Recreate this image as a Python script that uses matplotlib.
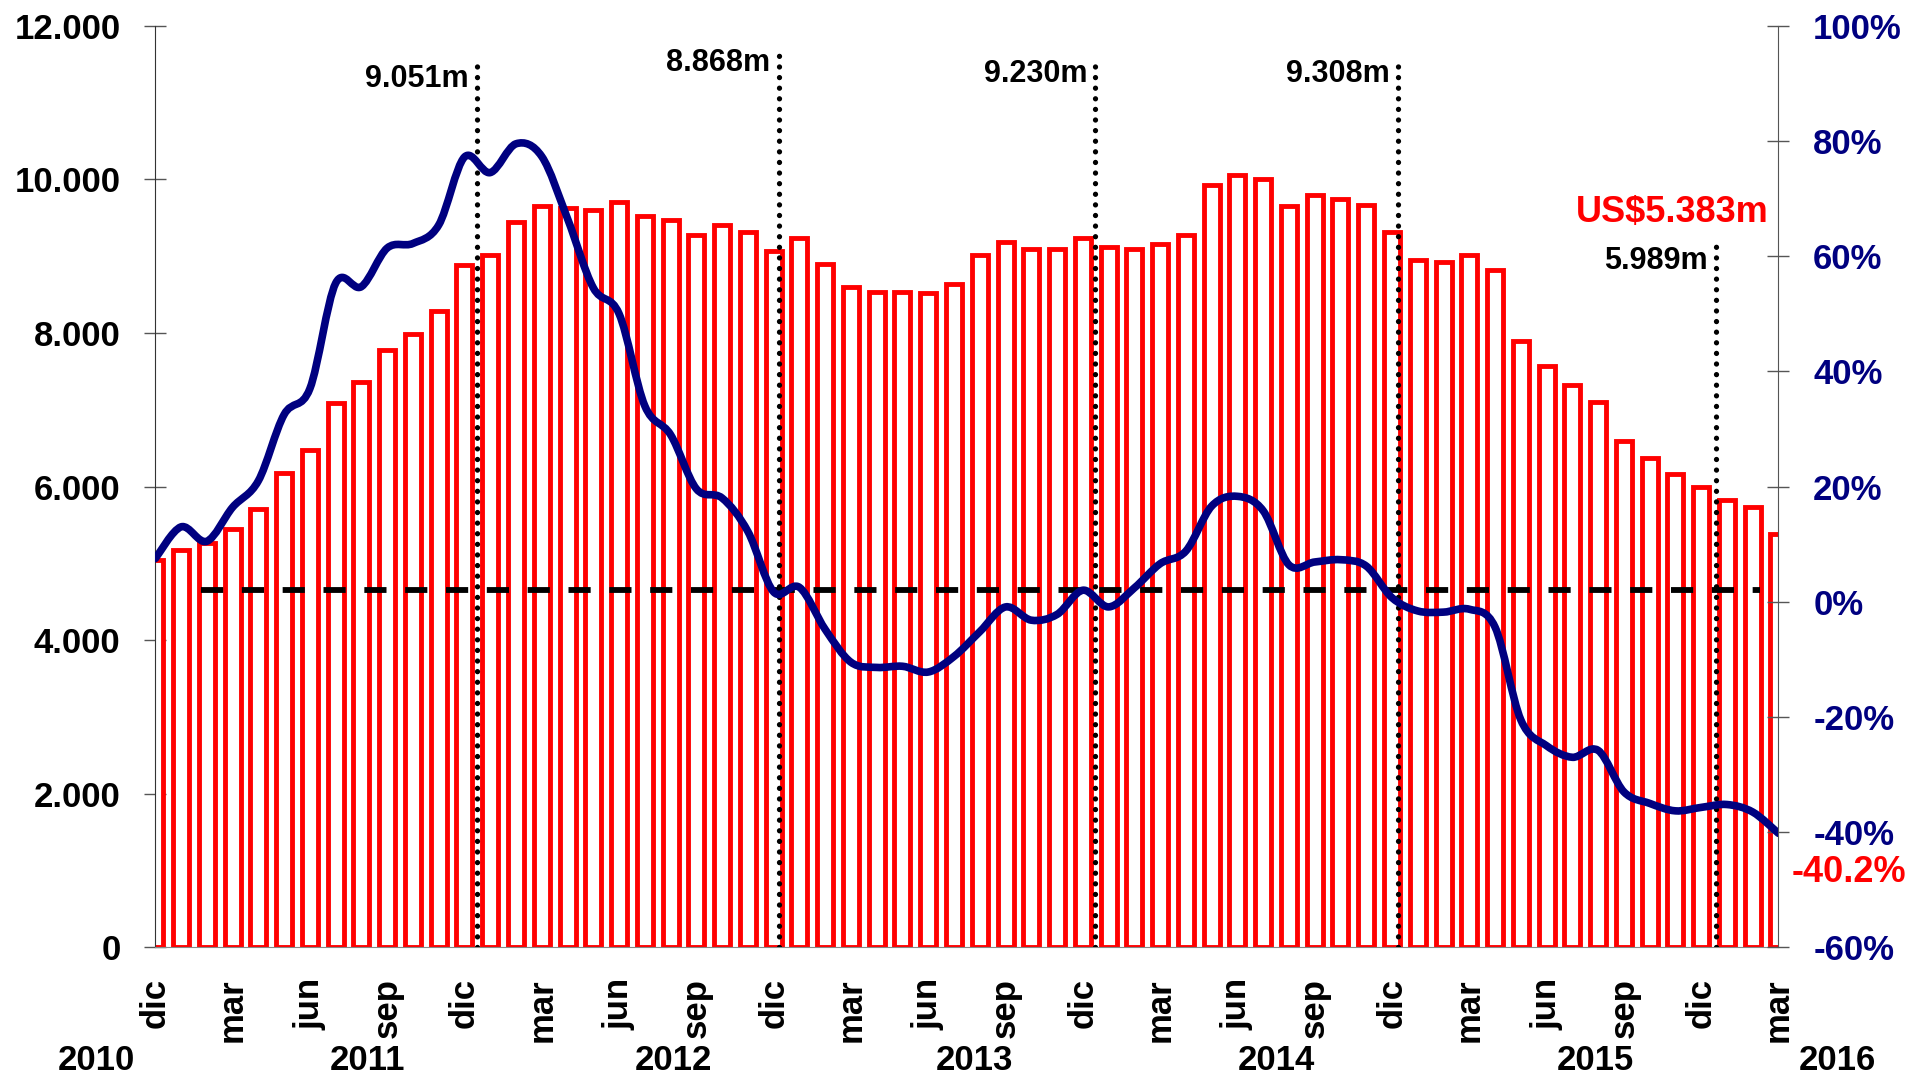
import matplotlib.pyplot as plt
from matplotlib.path import Path
from matplotlib.patches import PathPatch

plt.rcParams['font.family'] = ['Liberation Sans', 'DejaVu Sans']
plt.rcParams['font.weight'] = 'bold'

# monthly series, dic 2010 .. mar 2016
month_names = ['ene', 'feb', 'mar', 'abr', 'may', 'jun',
               'jul', 'ago', 'sep', 'oct', 'nov', 'dic']
months = ['dic'] + month_names * 5 + ['ene', 'feb', 'mar']

# value, US$ millions
values = [5050, 5180, 5270, 5450, 5710, 6170, 6470, 7090, 7360, 7780, 7980, 8280,
          8880, 9020, 9440, 9650, 9630, 9600, 9700, 9520, 9470, 9270, 9400, 9310,
          9070, 9230, 8900, 8600, 8530, 8530, 8520, 8640, 9020, 9190, 9090, 9090,
          9230, 9120, 9090, 9160, 9280, 9930, 10060, 10000, 9650, 9800, 9750, 9660,
          9308, 8950, 8920, 9010, 8820, 7890, 7570, 7320, 7100, 6590, 6370, 6160,
          5989, 5830, 5730, 5383]

# year-on-year change, %
growth = [7.5, 13.0, 10.5, 16.4, 21.0, 32.5, 37.0, 55.3, 54.7, 61.4, 62.2, 65.4,
          77.2, 74.5, 79.5, 77.3, 66.5, 54.5, 50.0, 34.0, 29.0, 19.6, 18.0, 12.2,
          1.7, 2.5, -4.8, -10.5, -11.4, -11.2, -12.2, -9.5, -5.2, -0.9, -3.2, -2.2,
          2.0, -0.9, 2.4, 6.6, 8.8, 16.6, 18.3, 15.8, 6.4, 6.9, 7.3, 6.2,
          0.7, -1.6, -1.8, -1.3, -4.4, -20.5, -25.0, -27.0, -25.8, -33.0, -35.0, -36.3,
          -35.7, -35.2, -36.5, -40.2]

years = ['2010', '2011', '2012', '2013', '2014', '2015', '2016']
dec_labels = ['9.051m', '8.868m', '9.230m', '9.308m', '5.989m']

RED = '#FF0000'
NAVY = '#000080'


def smooth_path(xs, ys):
    # Bezier curve through the points, like a spreadsheet "smoothed line"
    verts = [(xs[0], ys[0])]
    codes = [Path.MOVETO]
    n = len(xs)
    for i in range(n - 1):
        xp, yp = (xs[i - 1], ys[i - 1]) if i > 0 else (xs[i], ys[i])
        xn, yn = (xs[i + 2], ys[i + 2]) if i + 2 < n else (xs[i + 1], ys[i + 1])
        c1 = (xs[i] + (xs[i + 1] - xp) / 6, ys[i] + (ys[i + 1] - yp) / 6)
        c2 = (xs[i + 1] - (xn - xs[i]) / 6, ys[i + 1] - (yn - ys[i]) / 6)
        verts += [c1, c2, (xs[i + 1], ys[i + 1])]
        codes += [Path.CURVE4] * 3
    return Path(verts, codes)


fig = plt.figure(figsize=(19.15, 10.8), dpi=100)
ax = fig.add_axes([0.0811, 0.1228, 0.8476, 0.8534])
x = list(range(len(values)))

ax.bar(x, values, width=0.62, color='white', edgecolor=RED, linewidth=3.5, zorder=2)
ax.set_xlim(0, len(values) - 1)
ax.set_ylim(0, 12000)
ax.set_yticks(range(0, 12001, 2000))
ax.set_yticklabels(['{:,}'.format(v).replace(',', '.') for v in range(0, 12001, 2000)])
ax.set_xticks(x[::3])
ax.set_xticklabels(months[::3], rotation=90, va='top', ha='center')
ax.tick_params(axis='x', length=0, pad=22, labelsize=25)
ax.tick_params(axis='y', direction='inout', length=16, width=1, color='#555555',
               pad=17, labelsize=25)
ax.spines['top'].set_visible(False)
ax.spines['bottom'].set_color('#888888')
ax.spines['left'].set_color('#333333')
ax.spines['right'].set_visible(False)

# dotted december markers with labels
dec_pos = [12.48, 24.19, 36.49, 48.24, 60.57]
dec_top = [11507, 11707, 11568, 11568, 9127]
for xp, top, lab in zip(dec_pos, dec_top, dec_labels):
    ax.plot([xp, xp], [0, top], color='black', lw=3.8,
            linestyle=(0, (0.01, 2.0)), dash_capstyle='round', zorder=4)
    ax.text(xp - 0.32, top, lab, ha='right', va='top', fontsize=22, color='black')

ax.text(62.6, 9574, 'US$' + '{:,}'.format(values[-1]).replace(',', '.') + 'm',
        ha='right', va='center', fontsize=26, color=RED)

for yr, xp in zip(years, [-2.3, 8.25, 20.1, 31.8, 43.5, 55.9, 65.3]):
    ax.text(xp, -0.1229, yr, transform=ax.get_xaxis_transform(),
            ha='center', va='center', fontsize=25)

ax2 = ax.twinx()
ax2.set_ylim(-60, 100)
ax2.set_yticks(range(-60, 101, 20))
ax2.set_yticklabels(['{}%'.format(v) for v in range(-60, 101, 20)], color=NAVY)
ax2.tick_params(axis='y', direction='inout', length=16, width=1, color='#555555',
                pad=17, labelsize=25)
for side in ['top', 'bottom', 'left']:
    ax2.spines[side].set_visible(False)
ax2.spines['right'].set_color('#555555')

ax2.hlines(2.0, 1.78, 62.3, colors='black', linewidth=4.2, linestyles=(0, (3.8, 3.2)), zorder=3)
ax2.add_patch(PathPatch(smooth_path(x, growth), fill=False, edgecolor=NAVY,
                        linewidth=5.5, capstyle='round', joinstyle='round', zorder=5))

fig.text(0.9358, 0.1917, '{:.1f}%'.format(growth[-1]), ha='left', va='center',
         fontsize=26, color=RED)

plt.savefig('out.png', dpi=100)
